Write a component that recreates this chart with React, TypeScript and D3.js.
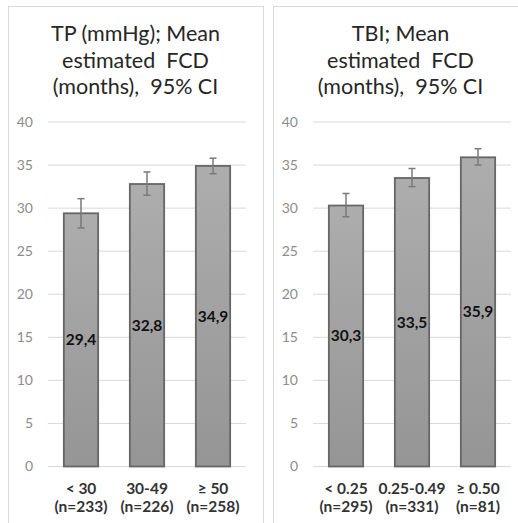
import React from "react";
import * as d3 from "d3";

// ---------- data ----------
const yTicks = [0, 5, 10, 15, 20, 25, 30, 35, 40];

const titleA = ["TP (mmHg); Mean", "estimated  FCD", "(months),  95% CI"];
const categoriesA = ["< 30", "30-49", "≥ 50"];
const countsA = ["(n=233)", "(n=226)", "(n=258)"];
const meansA = [29.4, 32.8, 34.9];
const lowerA = [27.7, 31.5, 34.0];
const upperA = [31.1, 34.2, 35.8];

const titleB = ["TBI; Mean", "estimated  FCD", "(months),  95% CI"];
const categoriesB = ["< 0.25", "0.25-0.49", "≥ 0.50"];
const countsB = ["(n=295)", "(n=331)", "(n=81)"];
const meansB = [30.3, 33.5, 35.9];
const lowerB = [29.0, 32.5, 35.0];
const upperB = [31.7, 34.6, 36.9];

const FONT = "Lato, 'Open Sans', 'Liberation Sans', sans-serif";
const W = 518;
const H = 523;
const PANEL_W = 255;
const PANEL_TOP = 6;

const y = d3.scaleLinear().domain([0, 40]).range([466.5, 122]);
const fmt = (v: number) => d3.format(".1f")(v).replace(".", ",");

type PanelProps = {
  left: number;
  title: string[];
  categories: string[];
  counts: string[];
  means: number[];
  lower: number[];
  upper: number[];
  id: string;
};

function Panel({ left, title, categories, counts, means, lower, upper, id }: PanelProps) {
  const x = d3
    .scaleBand<string>()
    .domain(categories)
    .range([40, 238])
    .paddingInner(0.48)
    .paddingOuter(0.24);
  const bw = x.bandwidth();
  const cx = PANEL_W / 2;
  return (
    <g transform={`translate(${left},0)`}>
      <defs>
        <linearGradient id={`grad-${id}`} x1="0" y1="0" x2="0" y2="1">
          <stop offset="0" stopColor="#adadad" />
          <stop offset="1" stopColor="#959595" />
        </linearGradient>
      </defs>
      <rect
        x={0.5}
        y={PANEL_TOP + 0.5}
        width={PANEL_W}
        height={H + 20}
        fill="#ffffff"
        stroke="#d9d9d9"
        strokeWidth={1}
      />
      {title.map((t, i) => (
        <text
          key={i}
          x={cx}
          y={41 + i * 26.5}
          textAnchor="middle"
          fontFamily={FONT}
          fontSize={21.5}
          fill="#262626"
          style={{ whiteSpace: "pre" }}
        >
          {t}
        </text>
      ))}
      {yTicks.map((t) => (
        <g key={t}>
          <line x1={40} x2={238} y1={y(t)} y2={y(t)} stroke="#d9d9d9" strokeWidth={1} />
          <text
            x={25}
            y={y(t)}
            dy="0.35em"
            textAnchor="end"
            fontFamily={FONT}
            fontSize={14}
            fill="#8c8c8c"
          >
            {t}
          </text>
        </g>
      ))}
      {categories.map((c, i) => {
        const bx = x(c) as number;
        const mid = bx + bw / 2;
        return (
          <g key={c}>
            <rect
              x={bx}
              y={y(means[i])}
              width={bw}
              height={y(0) - y(means[i])}
              fill={`url(#grad-${id})`}
              stroke="#666666"
              strokeWidth={1.8}
            />
            <g stroke="#7a7a7a" strokeWidth={1.5}>
              <line x1={mid} x2={mid} y1={y(upper[i])} y2={y(lower[i])} />
              <line x1={mid - 3.5} x2={mid + 3.5} y1={y(upper[i])} y2={y(upper[i])} />
              <line x1={mid - 3.5} x2={mid + 3.5} y1={y(lower[i])} y2={y(lower[i])} />
            </g>
            <text
              x={mid}
              y={(y(0) + y(means[i])) / 2}
              dy="0.35em"
              textAnchor="middle"
              fontFamily={FONT}
              fontWeight="bold"
              fontSize={15.5}
              fill="#111111"
            >
              {fmt(means[i])}
            </text>
            <text
              x={mid}
              y={494}
              textAnchor="middle"
              fontFamily={FONT}
              fontWeight="bold"
              fontSize={15.5}
              fill="#333333"
            >
              {c}
            </text>
            <text
              x={mid}
              y={512}
              textAnchor="middle"
              fontFamily={FONT}
              fontWeight="bold"
              fontSize={15.5}
              fill="#333333"
            >
              {counts[i]}
            </text>
          </g>
        );
      })}
    </g>
  );
}

export default function App() {
  return (
    <svg
      width={W}
      height={H}
      style={{ position: "absolute", left: 0, top: 0, display: "block", background: "#ffffff" }}
    >
      <rect width={W} height={H} fill="#ffffff" />
      <Panel
        id="a"
        left={8}
        title={titleA}
        categories={categoriesA}
        counts={countsA}
        means={meansA}
        lower={lowerA}
        upper={upperA}
      />
      <Panel
        id="b"
        left={273}
        title={titleB}
        categories={categoriesB}
        counts={countsB}
        means={meansB}
        lower={lowerB}
        upper={upperB}
      />
    </svg>
  );
}
